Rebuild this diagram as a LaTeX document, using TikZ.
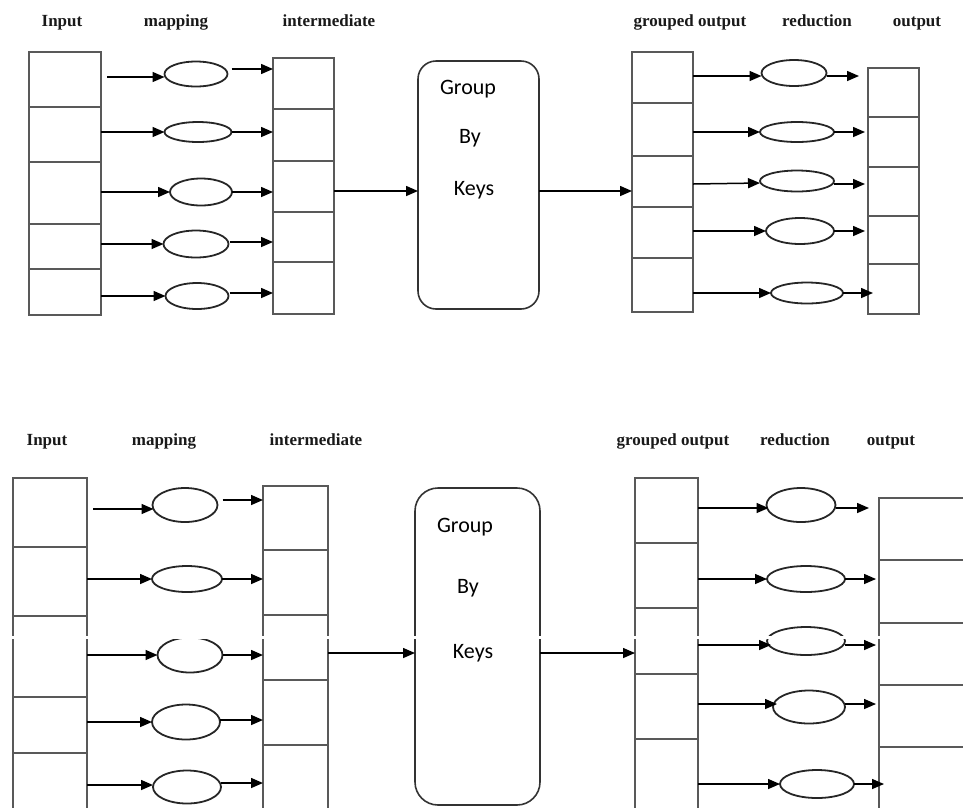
\documentclass[tikz,border=0pt]{standalone}
\usepackage{fontspec}
\setmainfont{Liberation Serif}
\newfontfamily\grpfont{Carlito}
\usetikzlibrary{shapes.geometric,arrows.meta,calc}
\tikzset{
 cell/.style={draw=black!65, line width=1.1pt, anchor=north west, inner sep=0pt, outer sep=0pt},
 oval/.style={ellipse, draw=black!85, line width=1.8pt, inner sep=0pt, outer sep=0pt},
 flow/.style={-{Triangle[length=12pt,width=10pt]}, line width=1.5pt},
 colhead/.style={font=\bfseries\fontsize{17}{17}\selectfont, inner sep=0pt, anchor=base, text=black!90},
 grpbox/.style={draw=black!80, line width=1.6pt, inner sep=0pt, outer sep=0pt, anchor=north west},
 grptext/.style={font=\grpfont\fontsize{22}{22}\selectfont, inner sep=0pt, anchor=base},
}
\begin{document}
\begin{tikzpicture}[x=1pt,y=-1pt]
\useasboundingbox (0,0) rectangle (963,807);
\clip (0,0) rectangle (963,807);

% ================= TOP DIAGRAM =================
\node[colhead] (th1) at (62,26) {Input};
\node[colhead] (th2) at (176,26) {mapping};
\node[colhead] (th3) at (329,26) {intermediate};
\node[colhead] (th4) at (690,26) {grouped output};
\node[colhead] (th5) at (817,26) {reduction};
\node[colhead] (th6) at (917,26) {output};

% input column
\node[cell, minimum width=72pt, minimum height=55pt] (ta1) at (29,52) {};
\node[cell, minimum width=72pt, minimum height=55pt] (ta2) at (29,107) {};
\node[cell, minimum width=72pt, minimum height=62pt] (ta3) at (29,162) {};
\node[cell, minimum width=72pt, minimum height=45pt] (ta4) at (29,224) {};
\node[cell, minimum width=72pt, minimum height=46pt] (ta5) at (29,269) {};

% mapping ellipses
\node[oval, minimum width=63pt, minimum height=25pt] (tm1) at (196,74) {};
\node[oval, minimum width=67pt, minimum height=20pt] (tm2) at (198,132) {};
\node[oval, minimum width=62pt, minimum height=27pt] (tm3) at (201,192) {};
\node[oval, minimum width=65pt, minimum height=27pt] (tm4) at (196,244) {};
\node[oval, minimum width=63pt, minimum height=26pt] (tm5) at (197,296) {};

% intermediate column
\node[cell, minimum width=61pt, minimum height=51pt] (ti1) at (273,58) {};
\node[cell, minimum width=61pt, minimum height=52pt] (ti2) at (273,109) {};
\node[cell, minimum width=61pt, minimum height=51pt] (ti3) at (273,161) {};
\node[cell, minimum width=61pt, minimum height=50pt] (ti4) at (273,212) {};
\node[cell, minimum width=61pt, minimum height=52pt] (ti5) at (273,262) {};

% arrows input -> mapping
\draw[flow] ($(ta1.east |- tm1.west)+(6,3)$) -- ($(tm1.west)+(0,3)$);
\draw[flow] (ta2.east |- tm2.west) -- (tm2.west);
\draw[flow] (ta3.east |- tm3.west) -- (tm3.west);
\draw[flow] (ta4.east |- tm4.west) -- (tm4.west);
\draw[flow] (ta5.east |- tm5.west) -- (tm5.west);

% arrows mapping -> intermediate
\draw[flow] ($(tm1.east)+(4,-5)$) -- ($(ti1.west |- tm1.east)+(0,-5)$);
\draw[flow] (tm2.east) -- (tm2.east -| ti2.west);
\draw[flow] (tm3.east) -- (tm3.east -| ti3.west);
\draw[flow] ($(tm4.east)+(1,-2)$) -- ($(tm4.east -| ti4.west)+(0,-2)$);
\draw[flow] ($(tm5.east)+(1,-3)$) -- ($(tm5.east -| ti5.west)+(0,-3)$);

% group by keys
\node[grpbox, rounded corners=18pt, minimum width=121pt, minimum height=248pt] (tg) at (418,61) {};
\node[grptext] (tgt1) at (468,94) {Group};
\node[grptext] (tgt2) at (470,143) {By};
\node[grptext] (tgt3) at (474,195) {Keys};
\coordinate (ty) at (0,191);

% grouped output column
\node[cell, minimum width=61pt, minimum height=51pt] (tq1) at (632,52) {};
\node[cell, minimum width=61pt, minimum height=53pt] (tq2) at (632,103) {};
\node[cell, minimum width=61pt, minimum height=51pt] (tq3) at (632,156) {};
\node[cell, minimum width=61pt, minimum height=51pt] (tq4) at (632,207) {};
\node[cell, minimum width=61pt, minimum height=54pt] (tq5) at (632,258) {};

\draw[flow] (ti3.east |- ty) -- (tg.west |- ty);
\draw[flow] (tg.east |- ty) -- (tq3.west |- ty);

% reduction ellipses
\node[oval, minimum width=65pt, minimum height=26pt] (tr1) at (794,73) {};
\node[oval, minimum width=74pt, minimum height=20pt] (tr2) at (797,132) {};
\node[oval, minimum width=74pt, minimum height=21pt] (tr3) at (797,181) {};
\node[oval, minimum width=68pt, minimum height=26pt] (tr4) at (800,231) {};
\node[oval, minimum width=72pt, minimum height=21pt] (tr5) at (807,293) {};

% output column
\node[cell, minimum width=51pt, minimum height=49pt] (to1) at (868,68) {};
\node[cell, minimum width=51pt, minimum height=50pt] (to2) at (868,117) {};
\node[cell, minimum width=51pt, minimum height=49pt] (to3) at (868,167) {};
\node[cell, minimum width=51pt, minimum height=48pt] (to4) at (868,216) {};
\node[cell, minimum width=51pt, minimum height=50pt] (to5) at (868,264) {};

% arrows grouped -> reduction
\draw[flow] ($(tq1.east |- tr1.west)+(0,3)$) -- ($(tr1.west)+(0,3)$);
\draw[flow] (tq2.east |- tr2.west) -- (tr2.west);
\draw[flow] ($(tq3.east |- tr3.west)+(0,3)$) -- ($(tr3.west)+(0,2)$);
\draw[flow] (tq4.east |- tr4.west) -- (tr4.west);
\draw[flow] (tq5.east |- tr5.west) -- (tr5.west);

% arrows reduction -> output
\draw[flow] ($(tr1.east)+(0,3)$) -- ($(to1.west |- tr1.east)+(-9,3)$);
\draw[flow] (tr2.east) -- ($(to2.west |- tr2.east)+(-3,0)$);
\draw[flow] ($(tr3.east)+(0,3)$) -- ($(to3.west |- tr3.east)+(-3,3)$);
\draw[flow] (tr4.east) -- ($(to4.west |- tr4.east)+(-3,0)$);
\draw[flow] (tr5.east) -- ($(to5.west |- tr5.east)+(5,0)$);

% ================= BOTTOM DIAGRAM =================
\node[colhead] (bh1) at (47,445) {Input};
\node[colhead] (bh2) at (164,445) {mapping};
\node[colhead] (bh3) at (316,445) {intermediate};
\node[colhead] (bh4) at (673,445) {grouped output};
\node[colhead] (bh5) at (795,445) {reduction};
\node[colhead] (bh6) at (891,445) {output};

% input column
\node[cell, minimum width=74pt, minimum height=69pt] (ba1) at (13,478) {};
\node[cell, minimum width=74pt, minimum height=69pt] (ba2) at (13,547) {};
\node[cell, minimum width=74pt, minimum height=81pt] (ba3) at (13,616) {};
\node[cell, minimum width=74pt, minimum height=56pt] (ba4) at (13,697) {};
\node[cell, minimum width=74pt, minimum height=70pt] (ba5) at (13,753) {};

% mapping ellipses
\node[oval, minimum width=65pt, minimum height=34pt] (bm1) at (185,505) {};
\node[oval, minimum width=70pt, minimum height=26pt] (bm2) at (187,579) {};
\node[oval, minimum width=65pt, minimum height=35pt] (bm3) at (190,655) {};
\node[oval, minimum width=68pt, minimum height=35pt] (bm4) at (186,722) {};
\node[oval, minimum width=68pt, minimum height=33pt] (bm5) at (187,787) {};

% intermediate column
\node[cell, minimum width=65pt, minimum height=64pt] (bi1) at (263,486) {};
\node[cell, minimum width=65pt, minimum height=65pt] (bi2) at (263,550) {};
\node[cell, minimum width=65pt, minimum height=65pt] (bi3) at (263,615) {};
\node[cell, minimum width=65pt, minimum height=65pt] (bi4) at (263,680) {};
\node[cell, minimum width=65pt, minimum height=70pt] (bi5) at (263,745) {};

% arrows input -> mapping
\draw[flow] ($(ba1.east |- bm1.west)+(6,4)$) -- ($(bm1.west)+(1,4)$);
\draw[flow] (ba2.east |- bm2.west) -- (bm2.west);
\draw[flow] (ba3.east |- bm3.west) -- (bm3.west);
\draw[flow] (ba4.east |- bm4.west) -- (bm4.west);
\draw[flow] ($(ba5.east |- bm5.west)+(0,-2)$) -- ($(bm5.west)+(0,-2)$);

% arrows mapping -> intermediate
\draw[flow] ($(bm1.east)+(5,-5)$) -- ($(bi1.west |- bm1.east)+(0,-5)$);
\draw[flow] (bm2.east) -- (bm2.east -| bi2.west);
\draw[flow] (bm3.east) -- (bm3.east -| bi3.west);
\draw[flow] ($(bm4.east)+(0,-2)$) -- ($(bm4.east -| bi4.west)+(0,-2)$);
\draw[flow] ($(bm5.east)+(0,-4)$) -- ($(bm5.east -| bi5.west)+(0,-4)$);

% group by keys
\node[grpbox, rounded corners=23pt, minimum width=125pt, minimum height=317pt] (bg) at (415,488) {};
\node[grptext] (bgt1) at (465,532) {Group};
\node[grptext] (bgt2) at (468,593) {By};
\node[grptext] (bgt3) at (473,658) {Keys};
\coordinate (by) at (0,653);

% grouped output column
\node[cell, minimum width=63pt, minimum height=65pt] (bq1) at (635,478) {};
\node[cell, minimum width=63pt, minimum height=65pt] (bq2) at (635,543) {};
\node[cell, minimum width=63pt, minimum height=66pt] (bq3) at (635,608) {};
\node[cell, minimum width=63pt, minimum height=65pt] (bq4) at (635,674) {};
\node[cell, minimum width=63pt, minimum height=80pt] (bq5) at (635,739) {};

\draw[flow] (bi3.east |- by) -- (bg.west |- by);
\draw[flow] (bg.east |- by) -- (bq3.west |- by);

% reduction ellipses
\node[oval, minimum width=69pt, minimum height=34pt] (br1) at (801,505) {};
\node[oval, minimum width=78pt, minimum height=26pt] (br2) at (806,579) {};
\node[oval, minimum width=78pt, minimum height=28pt] (br3) at (806,641) {};
\node[oval, minimum width=72pt, minimum height=33pt] (br4) at (809,707) {};
\node[oval, minimum width=74pt, minimum height=28pt] (br5) at (817,784) {};

% output column
\node[cell, minimum width=100pt, minimum height=62pt] (bo1) at (879,498) {};
\node[cell, minimum width=100pt, minimum height=63pt] (bo2) at (879,560) {};
\node[cell, minimum width=100pt, minimum height=62pt] (bo3) at (879,623) {};
\node[cell, minimum width=100pt, minimum height=62pt] (bo4) at (879,685) {};
\node[cell, minimum width=100pt, minimum height=80pt] (bo5) at (879,747) {};

% arrows grouped -> reduction
\draw[flow] ($(bq1.east |- br1.west)+(0,3)$) -- ($(br1.west)+(2,3)$);
\draw[flow] (bq2.east |- br2.west) -- (br2.west);
\draw[flow] ($(bq3.east |- br3.west)+(0,4)$) -- ($(br3.west)+(4,4)$);
\draw[flow] ($(bq4.east |- br4.west)+(0,-3)$) -- ($(br4.west)+(4,-3)$);
\draw[flow] (bq5.east |- br5.west) -- (br5.west);

% arrows reduction -> output
\draw[flow] ($(br1.east)+(0,3)$) -- ($(bo1.west |- br1.east)+(-10,3)$);
\draw[flow] (br2.east) -- ($(bo2.west |- br2.east)+(-3,0)$);
\draw[flow] ($(br3.east)+(0,4)$) -- ($(bo3.west |- br3.east)+(-3,4)$);
\draw[flow] ($(br4.east)+(0,-3)$) -- ($(bo4.west |- br4.east)+(-3,-3)$);
\draw[flow] (br5.east) -- ($(bo5.west |- br5.east)+(5,0)$);

% scan gap across the lower copy
\fill[white] (0,636) rectangle (963,638.5);
\end{tikzpicture}
\end{document}
